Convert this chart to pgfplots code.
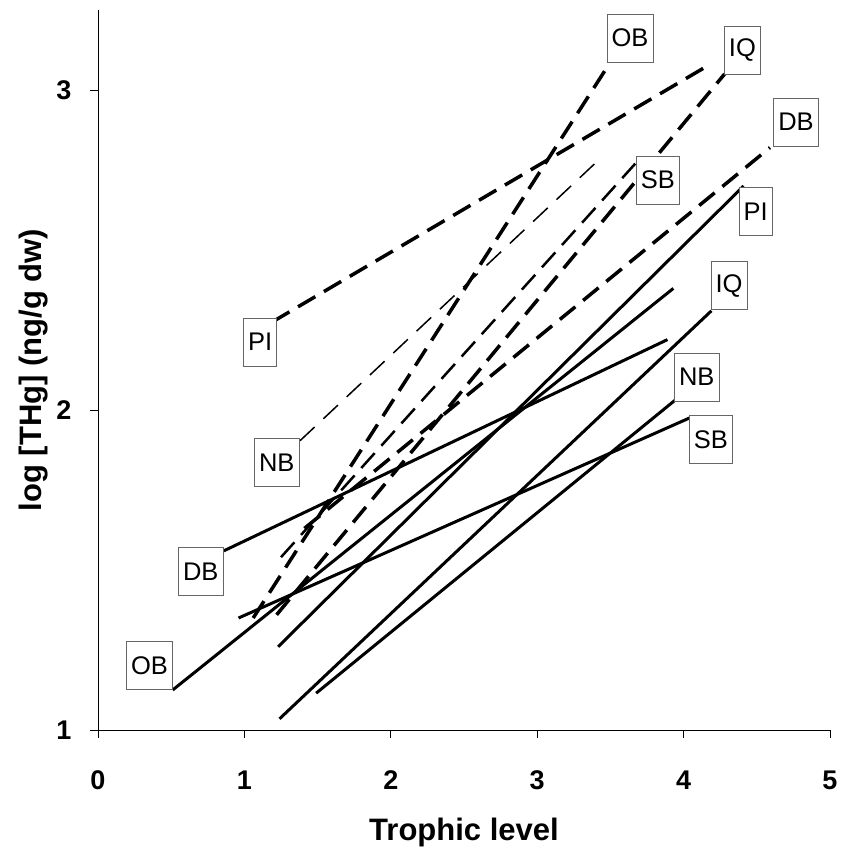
\documentclass[border=0pt]{standalone}
\usepackage{fontspec}
\setmainfont{Liberation Sans}
\usepackage{pgfplots}
\pgfplotsset{compat=1.18}
\tikzset{lbl/.style={draw=black!60, line width=0.8pt, fill=white, font=\fontsize{25.5}{29}\selectfont, inner xsep=4.5pt, minimum height=48pt, inner ysep=0pt}}
\begin{document}
\begin{tikzpicture}
\begin{axis}[
  scale only axis, width=732pt, height=720pt,
  xmin=0, xmax=5, ymin=1, ymax=3.25,
  axis x line*=bottom, axis y line*=left,
  xtick={0,1,2,3,4,5}, ytick={1,2,3},
  tick align=outside, major tick length=8pt,
  tick style={black, line width=0.8pt},
  axis line style={black, line width=0.8pt},
  /pgf/number format/assume math mode=true,
  xticklabel style={font=\bfseries\fontsize{27}{31}\selectfont, yshift=-29pt},
  yticklabel style={font=\bfseries\fontsize{27}{31}\selectfont, xshift=-15pt},
  xlabel={Trophic level}, ylabel={log [THg] (ng/g dw)},
  xlabel style={font=\bfseries\fontsize{31}{35}\selectfont, yshift=-21pt},
  ylabel style={font=\bfseries\fontsize{31}{35}\selectfont, yshift=2pt},
  clip=false,
  every axis plot/.append style={black},
]
% solid lines
\addplot[line width=3pt] coordinates {(0.51,1.125) (3.93,2.38)};   % OB
\addplot[line width=3pt] coordinates {(0.86,1.56) (3.89,2.22)};    % DB
\addplot[line width=3pt] coordinates {(0.96,1.35) (4.04,1.975)};   % SB
\addplot[line width=3pt] coordinates {(1.23,1.26) (4.41,2.70)};    % PI
\addplot[line width=3pt] coordinates {(1.24,1.035) (4.19,2.31)};   % IQ
\addplot[line width=3pt] coordinates {(1.49,1.115) (3.94,2.03)};   % NB
% dashed lines
\addplot[line width=3.5pt, dash pattern=on 20pt off 10pt] coordinates {(1.19,2.275) (4.18,3.08)}; % PI
\addplot[line width=1.5pt, dash pattern=on 20pt off 12pt] coordinates {(1.38,1.904) (3.44,2.79)}; % NB
\addplot[line width=3.5pt, dash pattern=on 20pt off 10pt] coordinates {(1.06,1.35) (3.49,3.08)};  % OB
\addplot[line width=3.5pt, dash pattern=on 20pt off 10pt] coordinates {(1.22,1.36) (4.28,3.05)};  % IQ
\addplot[line width=3.5pt, dash pattern=on 20pt off 10pt] coordinates {(1.41,1.63) (4.59,2.82)};  % DB
\addplot[line width=2.5pt, dash pattern=on 20pt off 10pt] coordinates {(1.25,1.54) (3.67,2.77)};  % SB
% labels
\node[lbl] at (axis cs:3.634,3.1625) {OB};
\node[lbl] at (axis cs:4.402,3.125) {IQ};
\node[lbl] at (axis cs:4.768,2.90) {DB};
\node[lbl] at (axis cs:3.825,2.719) {SB};
\node[lbl] at (axis cs:4.492,2.62) {PI};
\node[lbl] at (axis cs:4.31,2.389) {IQ};
\node[lbl] at (axis cs:4.09,2.103) {NB};
\node[lbl] at (axis cs:4.186,1.908) {SB};
\node[lbl] at (axis cs:1.107,2.2125) {PI};
\node[lbl] at (axis cs:1.221,1.836) {NB};
\node[lbl] at (axis cs:0.702,1.495) {DB};
\node[lbl] at (axis cs:0.352,1.202) {OB};
\end{axis}
\pgfresetboundingbox
\path[use as bounding box] (-98pt,-120pt) rectangle (744pt,730pt);
\end{tikzpicture}
\end{document}
